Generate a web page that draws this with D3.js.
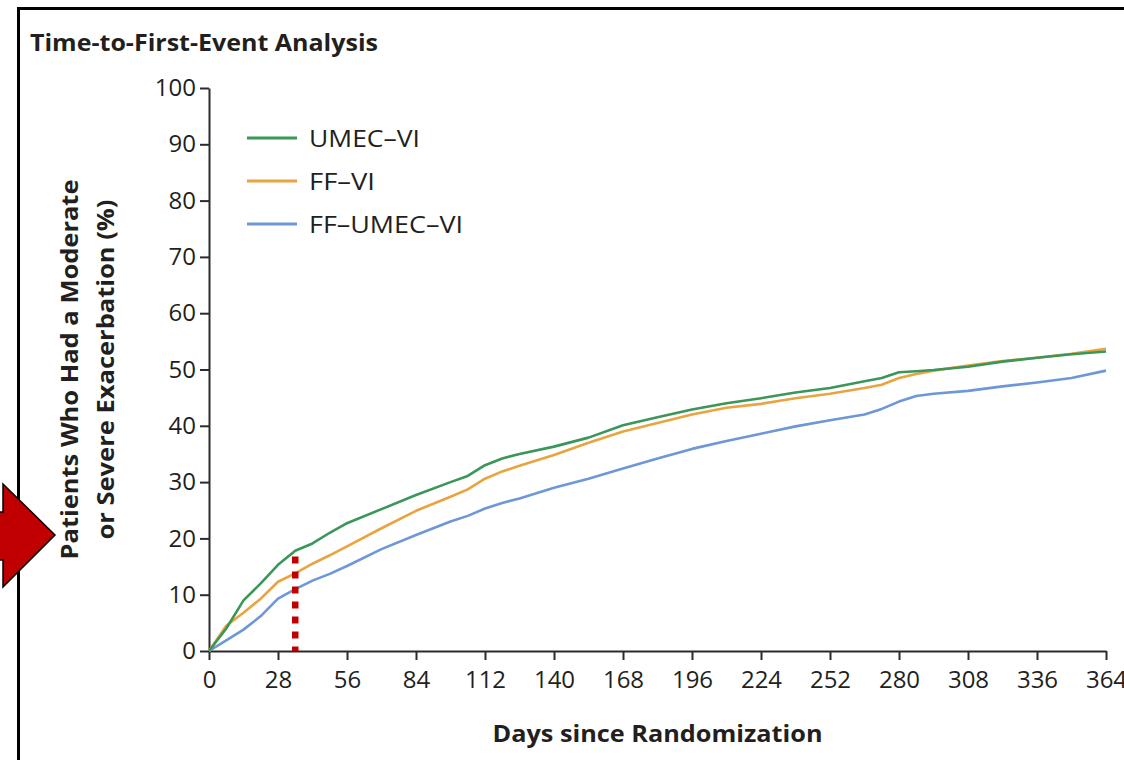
<!DOCTYPE html>
<html lang="en">
  <head>
    <meta charset="utf-8" />
    <title>Time-to-First-Event Analysis</title>
    <style>
      body {
        margin: 0;
        background: #fff;
      }
      svg text {
        font-family: "Open Sans", "Noto Sans", sans-serif;
        fill: #231f20;
      }
      .axis path,
      .axis line {
        stroke: #2b2b2b;
        stroke-width: 2px;
      }
      .axis text {
        font-size: 24px;
      }
    </style>
    <script src="https://d3js.org/d3.v7.min.js"></script>
  </head>

  <body>
    <svg width="1124" height="760"></svg>

    <script>
      // days since randomization, shared by all three curves
      var days = [0, 7, 14, 21, 28, 35, 42, 49, 56, 70, 84, 98, 105, 112, 119, 126, 140, 154, 168, 182, 196, 210, 224, 238, 252, 266, 273, 280, 287, 294, 308, 322, 336, 350, 364];

      // cumulative % with a moderate or severe exacerbation
      var umecVi = [0, 4.0, 9.0, 12.0, 15.3, 17.8, 19.1, 21.0, 22.7, 25.2, 27.7, 30.0, 31.1, 33.0, 34.2, 35.0, 36.3, 37.9, 40.1, 41.5, 42.9, 44.0, 44.9, 45.9, 46.7, 47.9, 48.5, 49.5, 49.7, 49.9, 50.5, 51.4, 52.1, 52.7, 53.2];
      var ffVi = [0, 4.5, 6.8, 9.3, 12.3, 13.8, 15.5, 17.0, 18.6, 21.8, 24.9, 27.4, 28.7, 30.6, 31.9, 32.9, 34.8, 37.0, 39.0, 40.5, 42.0, 43.2, 43.9, 44.9, 45.7, 46.7, 47.3, 48.5, 49.2, 49.8, 50.7, 51.5, 52.1, 52.8, 53.7];
      var ffUmecVi = [0, 1.9, 3.8, 6.2, 9.3, 11.0, 12.5, 13.7, 15.1, 18.1, 20.6, 23.0, 24.0, 25.3, 26.3, 27.1, 29.0, 30.6, 32.4, 34.2, 35.9, 37.3, 38.6, 39.9, 41.0, 42.0, 43.0, 44.3, 45.3, 45.7, 46.2, 47.0, 47.7, 48.5, 49.8];

      var seriesNames = ["UMEC\u2013VI", "FF\u2013VI", "FF\u2013UMEC\u2013VI"];
      var seriesColors = ["#3a9659", "#e9a440", "#6d97d6"];

      var xTicks = [0, 28, 56, 84, 112, 140, 168, 196, 224, 252, 280, 308, 336, 364];
      var yTicks = [0, 10, 20, 30, 40, 50, 60, 70, 80, 90, 100];

      // marker for the red dotted line
      var markDay = 35;
      var markValue = 16.8;

      var svg = d3.select("svg");

      var x = d3.scaleLinear().domain([0, 364]).range([209, 1106]);
      var y = d3.scaleLinear().domain([0, 100]).range([651, 88]);

      // outer frame (runs off the right and bottom edges)
      svg
        .append("rect")
        .attr("x", 18.5)
        .attr("y", 8.5)
        .attr("width", 1130)
        .attr("height", 780)
        .attr("fill", "none")
        .attr("stroke", "#000")
        .attr("stroke-width", 3);

      svg
        .append("text")
        .attr("x", 30)
        .attr("y", 51)
        .attr("font-size", 23)
        .attr("font-weight", "bold")
        .attr("textLength", 348)
        .attr("lengthAdjust", "spacingAndGlyphs")
        .text("Time-to-First-Event Analysis");

      // axes
      svg
        .append("g")
        .attr("class", "axis")
        .attr("transform", "translate(209,0)")
        .call(d3.axisLeft(y).tickValues(yTicks).tickSize(9).tickSizeOuter(0).tickPadding(4));

      svg
        .append("g")
        .attr("class", "axis")
        .attr("transform", "translate(0,651)")
        .call(d3.axisBottom(x).tickValues(xTicks).tickSize(9).tickSizeOuter(0).tickPadding(11));

      svg.selectAll(".axis .domain").attr("stroke-width", 2.5);

      // axis titles
      svg
        .append("text")
        .attr("x", (x(0) + x(364)) / 2)
        .attr("y", 742)
        .attr("text-anchor", "middle")
        .attr("font-size", 24)
        .attr("font-weight", "bold")
        .attr("textLength", 330)
        .attr("lengthAdjust", "spacingAndGlyphs")
        .text("Days since Randomization");

      var yMid = (y(0) + y(100)) / 2;
      svg
        .append("text")
        .attr("transform", "translate(78," + yMid + ") rotate(-90)")
        .attr("text-anchor", "middle")
        .attr("font-size", 24)
        .attr("font-weight", "bold")
        .attr("textLength", 380)
        .attr("lengthAdjust", "spacingAndGlyphs")
        .text("Patients Who Had a Moderate");
      svg
        .append("text")
        .attr("transform", "translate(114," + yMid + ") rotate(-90)")
        .attr("text-anchor", "middle")
        .attr("font-size", 24)
        .attr("font-weight", "bold")
        .attr("textLength", 340)
        .attr("lengthAdjust", "spacingAndGlyphs")
        .text("or Severe Exacerbation (%)");

      // curves
      var allSeries = [umecVi, ffVi, ffUmecVi];
      var line = d3
        .line()
        .x((d, i) => x(days[i]))
        .y((d) => y(d));

      // draw blue first, then orange, green on top
      [2, 1, 0].forEach((k) => {
        svg
          .append("path")
          .attr("d", line(allSeries[k]))
          .attr("fill", "none")
          .attr("stroke", seriesColors[k])
          .attr("stroke-width", 2.6)
          .attr("stroke-linejoin", "round");
      });

      // legend
      var legendWidths = [111, 66, 154];
      var legend = svg.append("g").attr("transform", "translate(247,138)");
      seriesNames.forEach((name, i) => {
        legend
          .append("line")
          .attr("x1", 0)
          .attr("x2", 50)
          .attr("y1", i * 43)
          .attr("y2", i * 43)
          .attr("stroke", seriesColors[i])
          .attr("stroke-width", 2.8);
        legend
          .append("text")
          .attr("x", 62)
          .attr("y", i * 43 + 9)
          .attr("font-size", 24)
          .attr("textLength", legendWidths[i])
          .attr("lengthAdjust", "spacingAndGlyphs")
          .text(name);
      });

      // red dotted marker at day 35
      svg
        .append("line")
        .attr("x1", x(markDay))
        .attr("x2", x(markDay))
        .attr("y1", y(markValue))
        .attr("y2", y(0))
        .attr("stroke", "#c00000")
        .attr("stroke-width", 6.5)
        .attr("stroke-dasharray", "7,8");

      // red arrow pointing at the y-axis title
      var arrow = [
        [-10, 512],
        [3, 512],
        [3, 484],
        [55, 535],
        [3, 587],
        [3, 560],
        [-10, 560],
      ];
      svg
        .append("polygon")
        .attr("points", arrow.map((p) => p.join(",")).join(" "))
        .attr("fill", "#c00000")
        .attr("stroke", "#000")
        .attr("stroke-width", 1.5);
    </script>
  </body>
</html>
